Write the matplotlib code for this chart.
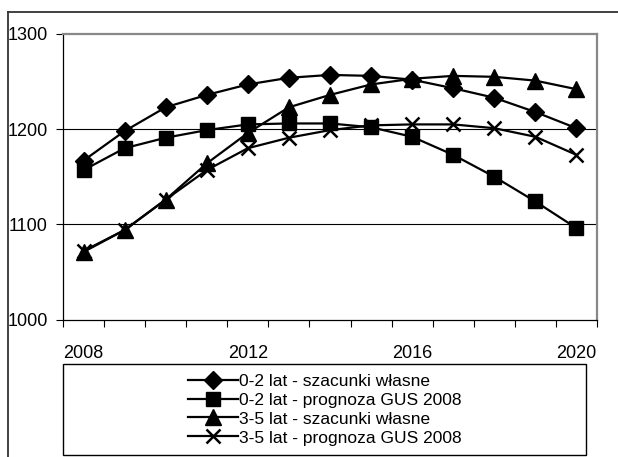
import matplotlib
matplotlib.use("Agg")
import matplotlib.pyplot as plt
from matplotlib.lines import Line2D
from matplotlib.patches import Rectangle

plt.rcParams['font.family'] = ['Liberation Sans', 'DejaVu Sans']

years = list(range(2008, 2021))
s02_wlasne = [1167, 1198, 1223, 1236, 1247, 1254, 1257, 1256, 1252, 1243, 1233, 1218, 1201]
s02_gus = [1157, 1180, 1191, 1199, 1205, 1206, 1206, 1202, 1192, 1173, 1150, 1124, 1096]
s35_wlasne = [1071, 1094, 1126, 1164, 1196, 1223, 1236, 1247, 1253, 1256, 1255, 1251, 1242]
s35_gus = [1072, 1094, 1126, 1157, 1180, 1191, 1199, 1204, 1205, 1205, 1201, 1192, 1173]
labels = ['0-2 lat - szacunki własne', '0-2 lat - prognoza GUS 2008',
          '3-5 lat - szacunki własne', '3-5 lat - prognoza GUS 2008']
year_labels = [2008, 2012, 2016, 2020]

W, H = 618, 457
fig = plt.figure(figsize=(W / 100, H / 100), dpi=100)
ax = fig.add_axes([63 / W, 1 - 319.5 / H, (597 - 63) / W, (319.5 - 34) / H])

x = list(range(len(years)))
ax.plot(x, s02_wlasne, color='black', lw=1.6, marker='D', ms=9.5, label=labels[0])
ax.plot(x, s02_gus, color='black', lw=1.6, marker='s', ms=10.5, label=labels[1])
ax.plot(x, s35_wlasne, color='black', lw=1.6, marker='^', ms=11, label=labels[2])
ax.plot(x, s35_gus, color='black', lw=1.6, marker='x', ms=10, mew=1.8, label=labels[3])

ax.set_xlim(-0.5, len(years) - 0.5)
ax.set_ylim(1000, 1300)
ax.set_yticks([1000, 1100, 1200, 1300])
for v in [1100, 1200]:
    ax.axhline(v, color='black', lw=0.8, zorder=0)

ax.set_xticks([i - 0.5 for i in range(len(years) + 1)])
ax.set_xticklabels([])
ax.set_xticks([years.index(y) for y in year_labels], minor=True)
ax.set_xticklabels([str(y) for y in year_labels], minor=True)
ax.tick_params(axis='x', which='major', length=5, width=0.8, direction='out')
ax.tick_params(axis='x', which='minor', length=0, pad=18, labelsize=13)
ax.tick_params(axis='y', length=5, width=0.8, direction='out', pad=6, labelsize=13)

for side in ['left', 'bottom']:
    ax.spines[side].set_color('black')
    ax.spines[side].set_linewidth(0.9)
for side in ['top', 'right']:
    ax.spines[side].set_color('#888888')
    ax.spines[side].set_linewidth(1.6)

# legend frame spans the plot width, entries centred inside it
bx0, by0, bx1, by1 = 63, 364, 586, 455
fig.add_artist(Rectangle((bx0 / W, 1 - by1 / H), (bx1 - bx0) / W, (by1 - by0) / H,
                         transform=fig.transFigure, fill=False, ec='black', lw=1.0))
leg = fig.legend(loc='center', bbox_to_anchor=(bx0 / W, 1 - by1 / H, (bx1 - bx0) / W, (by1 - by0) / H),
                 frameon=False, fontsize=12.5,
                 handlelength=2.9, handletextpad=0.05, labelspacing=0.22, borderpad=0.0)

fig.add_artist(Line2D([8 / W, 1], [1 - 11.5 / H, 1 - 11.5 / H], color='#333333', lw=1.3))
fig.add_artist(Line2D([8 / W, 8 / W], [0, 1 - 11.5 / H], color='#333333', lw=1.3))

fig.savefig('out.png', dpi=100)
